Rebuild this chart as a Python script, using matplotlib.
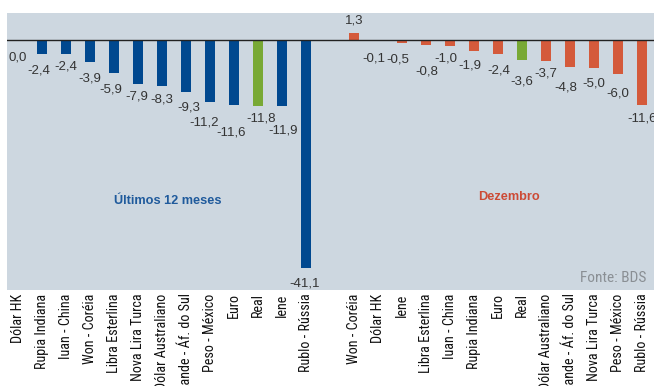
import matplotlib
matplotlib.use("Agg")
import matplotlib.pyplot as plt
from matplotlib import font_manager
from matplotlib.font_manager import FontProperties
from matplotlib.textpath import TextPath

left_labels = ["Dólar HK", "Rupia Indiana", "Iuan - China", "Won - Coréia", "Libra Esterlina",
               "Nova Lira Turca", "Dólar Australiano", "Rande - Áf. do Sul", "Peso - México",
               "Euro", "Real", "Iene", "Rublo - Rússia"]
left_values = [0.0, -2.4, -2.4, -3.9, -5.9, -7.9, -8.3, -9.3, -11.2, -11.6, -11.8, -11.9, -41.1]

right_labels = ["Won - Coréia", "Dólar HK", "Iene", "Libra Esterlina", "Iuan - China",
                "Rupia Indiana", "Euro", "Real", "Dólar Australiano", "Rande - Áf. do Sul",
                "Nova Lira Turca", "Peso - México", "Rublo - Rússia"]
right_values = [1.3, -0.1, -0.5, -0.8, -1.0, -1.9, -2.4, -3.6, -3.7, -4.8, -5.0, -6.0, -11.6]

# label placement nudges (pixels) relative to the bar end, as in the reference
left_dx = [0, -3, 0, 0, -3, -1.5, 0, 3, -6, -3, 3, 1.5, -1]
left_dy = [17, 16.7, 13.4, 16.4, 16.3, 12.9, 13.7, 15.2, 20, 27.7, 12.6, 24, 15]
right_dx = [0, -4.5, -4, 0.5, -4.5, -4.5, 0.5, 0, 0, -4.5, 0, 0, 0]
right_dy = [-12.8, 17.8, 16.9, 26.6, 13.2, 14.8, 16.7, 21.3, 12.5, 20.4, 15.3, 19.5, 14.4]

names = {f.name for f in font_manager.fontManager.ttflist}
NARROW = "Liberation Sans"
for cand in ["Liberation Sans Narrow", "Arial Narrow", "Roboto Condensed", "Archivo Narrow",
             "PT Sans Narrow"]:
    if cand in names:
        NARROW = cand
        break
FONT = ["Liberation Sans", "DejaVu Sans"]
NFONT = [NARROW, "DejaVu Sans"]

def fit(text, fam, target_px, weight="normal"):
    w = TextPath((0, 0), text, size=10, prop=FontProperties(family=fam, weight=weight)).get_extents().width
    return 10 * target_px * 0.72 / w

tick_size = fit("Rublo - Rússia", NARROW, 77)
src_size = fit("Fonte: BDS", NARROW, 65)

BLUE = "#00488f"
RED = "#d45a3b"
GREEN = "#78a935"
BG = "#cdd7e0"

fig = plt.figure(figsize=(6.54, 3.86), dpi=100)
ax = fig.add_axes([7/654, (386-290)/386, 1 - 7/654, (290-13)/386])
ax.set_facecolor(BG)

xl = list(range(len(left_values)))
xr = [i + len(left_values) + 1 for i in range(len(right_values))]

cl = [GREEN if n == "Real" else BLUE for n in left_labels]
cr = [GREEN if n == "Real" else RED for n in right_labels]

ax.bar(xl, left_values, width=0.42, color=cl, zorder=2)
ax.bar(xr, right_values, width=0.42, color=cr, zorder=2)
ax.axhline(0, color="#222222", lw=1.0, zorder=3)

ax.set_xlim(-0.458, 26.5)
ax.set_ylim(-45.0, 4.9)

def fmt(v):
    return f"{v:.1f}".replace(".", ",")

vfont = dict(family=FONT, fontsize=9.5, color="#333333")
pts = list(zip(xl, left_values, left_dx, left_dy)) + list(zip(xr, right_values, right_dx, right_dy))
for x, v, dx, dy in pts:
    ax.annotate(fmt(v), (x, v), xytext=(dx, -dy), textcoords="offset pixels",
                ha="center", va="center", **vfont)

ax.set_xticks(xl + xr)
ax.set_xticklabels(left_labels + right_labels, rotation=90, family=NFONT, fontsize=tick_size,
                   color="#111111", ha="center", va="top")
ax.tick_params(axis="x", length=0, pad=2.5)
ax.set_yticks([])
for s in ax.spines.values():
    s.set_visible(False)

ax.text(6.25, -29.0, "Últimos 12 meses", ha="center", va="center", fontsize=9.2,
        fontweight="bold", color="#1f5a9c", family=FONT)
ax.text(20.45, -28.2, "Dezembro", ha="center", va="center", fontsize=9.2,
        fontweight="bold", color="#cc4a35", family=FONT)
ax.text(26.2, -42.8, "Fonte: BDS", ha="right", va="center",
        fontsize=src_size, color="#8a8f94", family=NFONT)

fig.savefig("out.png", dpi=100)
